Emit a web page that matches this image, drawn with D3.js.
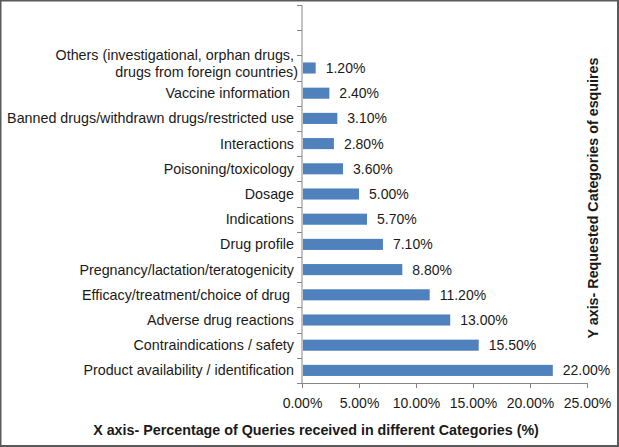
<!DOCTYPE html>
<html><head><meta charset="utf-8">
<script src="https://cdn.jsdelivr.net/npm/d3@7"></script>
<style>body{margin:0;background:#fff}svg{display:block}text{font-family:"Liberation Sans",Arial,sans-serif;fill:#1a1a1a}</style>
</head><body>
<script>
const categories = [
  "", "",
  "Others (investigational, orphan drugs,|drugs from foreign countries)",
  "Vaccine information ",
  "Banned drugs/withdrawn drugs/restricted use",
  "Interactions",
  "Poisoning/toxicology",
  "Dosage",
  "Indications",
  "Drug profile",
  "Pregnancy/lactation/teratogenicity",
  "Efficacy/treatment/choice of drug ",
  "Adverse drug reactions",
  "Contraindications / safety",
  "Product availability / identification"
];
const values = [null, null, 1.2, 2.4, 3.1, 2.8, 3.6, 5.0, 5.7, 7.1, 8.8, 11.2, 13.0, 15.5, 22.0];
const xTicks = [0, 5, 10, 15, 20, 25];
const xTitle = "X axis- Percentage of Queries received in different Categories (%)";
const yTitle = "Y axis- Requested Categories of esquires";

const W = 619, H = 447;
const svg = d3.select("body").append("svg").attr("width", W).attr("height", H);
svg.append("rect").attr("x", 0.5).attr("y", 0.5).attr("width", W - 1.5).attr("height", H - 1.5)
  .attr("fill", "#fff").attr("stroke", "#5a5a5a").attr("stroke-width", 2);

const x0 = 302, x1 = 587, yTop = 5, yBot = 383;
const x = d3.scaleLinear().domain([0, 25]).range([x0, x1]);
const idx = categories.map((c, i) => i);
const y = d3.scaleBand().domain(idx).range([yTop, yBot]).paddingInner(0.56).paddingOuter(0.28);
const step = (yBot - yTop) / categories.length;

const axisColor = "#868686";
svg.append("line").attr("x1", x0).attr("x2", x0).attr("y1", yTop).attr("y2", yBot)
  .attr("stroke", axisColor).attr("stroke-width", 1);
d3.range(categories.length + 1).forEach(i => {
  const yy = Math.round(yTop + i * step) + 0.5;
  svg.append("line").attr("x1", x0 - 5).attr("x2", x0).attr("y1", yy).attr("y2", yy)
    .attr("stroke", axisColor);
});

const xAxis = d3.axisBottom(x).tickValues(xTicks).tickSize(5).tickSizeOuter(0)
  .tickFormat(d => d.toFixed(2) + "%");
const gx = svg.append("g").attr("transform", `translate(0,${yBot})`).call(xAxis);
gx.select(".domain").attr("stroke", axisColor);
gx.selectAll(".tick line").attr("stroke", axisColor);
gx.selectAll(".tick text").attr("y", 15).attr("dy", "0.71em")
  .style("font-size", "14px").style("font-family", '"Liberation Sans",Arial,sans-serif').attr("fill", "#1a1a1a");

const data = idx.filter(i => values[i] != null);
svg.selectAll("rect.bar").data(data).join("rect").attr("class", "bar")
  .attr("x", x(0) + 1).attr("y", i => y(i)).attr("height", y.bandwidth())
  .attr("width", i => x(values[i]) - x(0) - 1).attr("fill", "#4f81bd");

svg.selectAll("text.val").data(data).join("text").attr("class", "val")
  .attr("x", i => x(values[i]) + 10).attr("y", i => y(i) + y.bandwidth() / 2).attr("dy", "0.35em")
  .style("font-size", "14px").text(i => values[i].toFixed(2) + "%");

data.forEach(i => {
  const lines = categories[i].split("|");
  const cy = y(i) + y.bandwidth() / 2;
  const t = svg.append("text").attr("text-anchor", "end").style("font-size", "14.3px")
    .style("white-space", "pre").attr("xml:space", "preserve");
  if (lines.length === 1) {
    t.attr("x", 294).attr("y", cy).attr("dy", "0.35em").text(lines[0]);
  } else {
    t.append("tspan").attr("x", 294).attr("y", cy - 13).attr("dy", "0.35em").text(lines[0]);
    t.append("tspan").attr("x", 298).attr("y", cy + 4).attr("dy", "0.35em").text(lines[1]);
  }
});

svg.append("text").attr("x", 316).attr("y", 430).attr("text-anchor", "middle").attr("dy", "0.35em")
  .style("font-size", "14.3px").style("font-weight", "bold").text(xTitle);
svg.append("text").attr("transform", "translate(593,198) rotate(-90)").attr("text-anchor", "middle")
  .attr("dy", "0.35em").style("font-size", "14.3px").style("font-weight", "bold").text(yTitle);
</script>
</body></html>
